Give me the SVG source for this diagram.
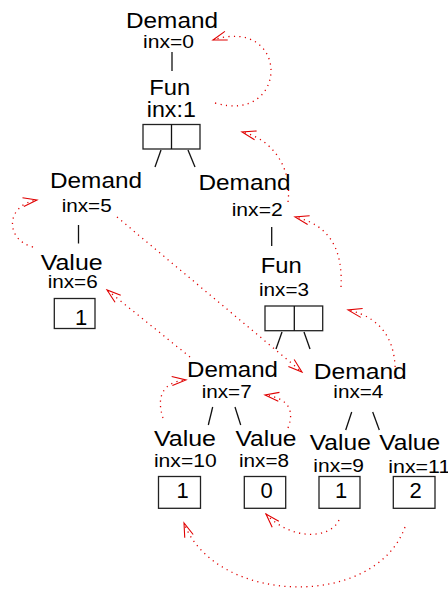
<svg xmlns="http://www.w3.org/2000/svg" width="448" height="590" viewBox="0 0 448 590">
<style>
text{font-family:"Liberation Sans",Arial,sans-serif;fill:#000;text-anchor:middle}
.b{font-size:22px}
.s{font-size:18px}
.box{fill:none;stroke:#222;stroke-width:1.3}
.edge{stroke:#111;stroke-width:1.3;fill:none}
.dep{fill:none;stroke:#e00000;stroke-width:1.3;stroke-dasharray:1.2 4.3;marker-end:url(#ah)}
.ahp{fill:none;stroke:#e00000;stroke-width:1.1;stroke-dasharray:none}
</style>
<defs>
<marker id="ah" viewBox="-1 -1 17 11" markerWidth="17" markerHeight="11" refX="14" refY="4.5" orient="auto" markerUnits="userSpaceOnUse">
<path class="ahp" d="M0,0 L14,4.5 L0,9"/>
</marker>
</defs>
<g id="connectors">
<line class="edge" x1="172" y1="52" x2="172" y2="71"/>
<line class="edge" x1="161" y1="150" x2="155" y2="167"/>
<line class="edge" x1="188" y1="150" x2="195" y2="167"/>
<line class="edge" x1="78.5" y1="225" x2="78.5" y2="243.5"/>
<line class="edge" x1="271.7" y1="227" x2="271.7" y2="246"/>
<line class="edge" x1="282" y1="332" x2="276" y2="349"/>
<line class="edge" x1="304" y1="332" x2="310" y2="349"/>
<line class="edge" x1="212.7" y1="407" x2="208.3" y2="425"/>
<line class="edge" x1="235" y1="407" x2="240.7" y2="425"/>
<line class="edge" x1="351.7" y1="412" x2="345.7" y2="430"/>
<line class="edge" x1="372.7" y1="412" x2="379.3" y2="430"/>
<path class="dep" d="M215,103 C290,125 290,15 213,40"/>
<path class="dep" d="M288,202 C292,170 275,140 242,132"/>
<path class="dep" d="M341,287 C343,250 330,225 295,217"/>
<path class="dep" d="M395,378 C397,345 385,318 348,310"/>
<path class="dep" d="M33,247 C5,240 5,205 37,200"/>
<path class="dep" d="M117,217 L302,372"/>
<path class="dep" d="M190,357 L107,290"/>
<path class="dep" d="M163,418 C157,400 160,382 186,380"/>
<path class="dep" d="M288,428 C295,410 288,398 265,395"/>
<path class="dep" d="M339,520 C330,540 290,540 266,514"/>
<path class="dep" d="M405,527 C375,610 215,605 184,523"/>
</g>
<g id="n0">
<text class="b" x="172" y="28" textLength="92" lengthAdjust="spacingAndGlyphs">Demand</text>
<text class="s" x="168.5" y="47.5" textLength="51" lengthAdjust="spacingAndGlyphs">inx=0</text>
</g>
<g id="n1">
<text class="b" x="169.7" y="95" textLength="41" lengthAdjust="spacingAndGlyphs">Fun</text>
<text class="b" x="171.3" y="117" textLength="49" lengthAdjust="spacingAndGlyphs">inx:1</text>
<rect class="box" x="143" y="124.5" width="57" height="24.5"/>
<line class="edge" x1="171.5" y1="124.5" x2="171.5" y2="149"/>
</g>
<g id="n5">
<text class="b" x="96" y="188" textLength="92" lengthAdjust="spacingAndGlyphs">Demand</text>
<text class="s" x="86.7" y="211.5" textLength="50" lengthAdjust="spacingAndGlyphs">inx=5</text>
</g>
<g id="n2">
<text class="b" x="244.5" y="190" textLength="92" lengthAdjust="spacingAndGlyphs">Demand</text>
<text class="s" x="257.2" y="215.5" textLength="51" lengthAdjust="spacingAndGlyphs">inx=2</text>
</g>
<g id="n6">
<text class="b" x="71.7" y="270" textLength="62" lengthAdjust="spacingAndGlyphs">Value</text>
<text class="s" x="72.7" y="288" textLength="50" lengthAdjust="spacingAndGlyphs">inx=6</text>
<rect class="box" x="54.3" y="298.5" width="40.7" height="30"/>
<text class="b" x="81" y="325">1</text>
</g>
<g id="n3">
<text class="b" x="281.3" y="273" textLength="41" lengthAdjust="spacingAndGlyphs">Fun</text>
<text class="s" x="284" y="295.5" textLength="50" lengthAdjust="spacingAndGlyphs">inx=3</text>
<rect class="box" x="265" y="306" width="57.7" height="24.7"/>
<line class="edge" x1="294.3" y1="306" x2="294.3" y2="330.7"/>
</g>
<g id="n7">
<text class="b" x="232.5" y="377" textLength="91" lengthAdjust="spacingAndGlyphs">Demand</text>
<text class="s" x="226.7" y="398" textLength="50" lengthAdjust="spacingAndGlyphs">inx=7</text>
</g>
<g id="n4">
<text class="b" x="360.3" y="379" textLength="93" lengthAdjust="spacingAndGlyphs">Demand</text>
<text class="s" x="358.3" y="398" textLength="50" lengthAdjust="spacingAndGlyphs">inx=4</text>
</g>
<g id="n10">
<text class="b" x="185" y="446" textLength="62" lengthAdjust="spacingAndGlyphs">Value</text>
<text class="s" x="185.3" y="466.5" textLength="62.7" lengthAdjust="spacingAndGlyphs">inx=10</text>
<rect class="box" x="158.5" y="476.5" width="42" height="31.8"/>
<text class="b" x="182.5" y="498">1</text>
</g>
<g id="n8">
<text class="b" x="266" y="446" textLength="61" lengthAdjust="spacingAndGlyphs">Value</text>
<text class="s" x="264" y="466.5" textLength="50" lengthAdjust="spacingAndGlyphs">inx=8</text>
<rect class="box" x="244.3" y="476.5" width="41.4" height="31.8"/>
<text class="b" x="266.5" y="498">0</text>
</g>
<g id="n9">
<text class="b" x="340.3" y="450" textLength="61" lengthAdjust="spacingAndGlyphs">Value</text>
<text class="s" x="338.7" y="471.5" textLength="50.7" lengthAdjust="spacingAndGlyphs">inx=9</text>
<rect class="box" x="319" y="476.5" width="41" height="31.8"/>
<text class="b" x="341" y="498">1</text>
</g>
<g id="n11">
<text class="b" x="409.7" y="450" textLength="61" lengthAdjust="spacingAndGlyphs">Value</text>
<text class="s" x="419.3" y="472.5" textLength="62" lengthAdjust="spacingAndGlyphs">inx=11</text>
<rect class="box" x="393.3" y="476.5" width="41.7" height="31.8"/>
<text class="b" x="415.5" y="498">2</text>
</g>
</svg>
